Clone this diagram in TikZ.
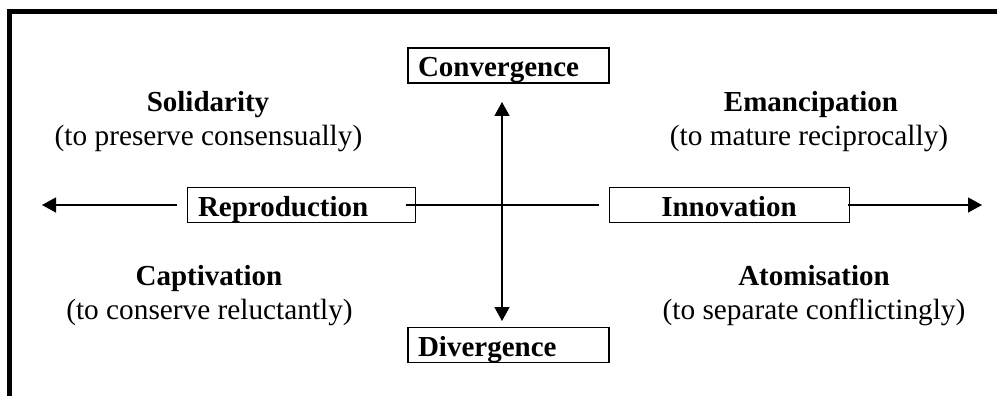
\documentclass[tikz,border=0pt]{standalone}
\usepackage{fontspec}
\setmainfont{Liberation Serif}
\usetikzlibrary{arrows.meta}
\tikzset{
  every node/.style={font=\fontsize{29}{34}\selectfont},
  title/.style={inner sep=0pt, anchor=base, font=\fontsize{29}{34}\selectfont\bfseries},
  sub/.style={inner sep=0pt, anchor=base, font=\fontsize{29.3}{34}\selectfont},
  thickbox/.style={draw, line width=1.8pt, minimum width=201pt, minimum height=35pt,
    text width=181pt, align=left, inner xsep=10pt, inner ysep=0pt,
    text height=24pt, text depth=2pt, font=\fontsize{29}{34}\selectfont\bfseries},
  thinbox/.style={draw, line width=1pt, minimum height=35pt, inner ysep=0pt,
    text height=24pt, text depth=2pt, font=\fontsize{29}{34}\selectfont\bfseries},
  axis/.style={line width=1.4pt},
  arr/.style={axis, -{Triangle[length=14pt,width=15pt]}},
  biarr/.style={axis, {Triangle[length=14pt,width=15pt]}-{Triangle[length=14pt,width=15pt]}},
  frameline/.style={line width=4.5pt, line join=miter}
}
\begin{document}
\begin{tikzpicture}[x=1pt,y=-1pt]
\useasboundingbox (0,0) rectangle (997,396);
\fill[white] (0,0) rectangle (997,396);
% frame (left and top edges)
\draw[frameline] (9.5,400) -- (9.5,11.75) -- (1000,11.75);

% boxes
\node[thickbox] (conv) at (508.5,65.5) {Convergence};
\node[thickbox] (div) at (508.5,345) {Divergence};
\node[thinbox, minimum width=228pt, text width=206pt, align=left, inner xsep=11pt] (rep) at (301,205) {Reproduction};
\node[thinbox, minimum width=240pt, text width=220pt, align=center, inner xsep=10pt] (inn) at (729,205) {Innovation};

% free ends
\coordinate (lefttip) at (42,205);
\coordinate (righttip) at (982,205);
\coordinate (toptip) at (502,102);
\coordinate (bottip) at (502,321);

% connectors
\draw[arr] ([xshift=-10pt]rep.west) -- (lefttip);
\draw[axis] ([xshift=-10pt]rep.east) -- ([xshift=-10pt]inn.west);
\draw[arr] ([xshift=-2pt]inn.east) -- (righttip);
\draw[biarr] (toptip) -- (bottip);

% quadrant labels
\node[title] (sol) at (208,111) {Solidarity};
\node[sub] (solsub) at (208.5,146) {(to preserve consensually)};
\node[title] (eman) at (811,111) {Emancipation};
\node[sub] (emansub) at (809,146) {(to mature reciprocally)};
\node[title] (capt) at (209,285) {Captivation};
\node[sub] (captsub) at (209.5,319) {(to conserve reluctantly)};
\node[title] (atom) at (814,285) {Atomisation};
\node[sub] (atomsub) at (814,319) {(to separate conflictingly)};
\end{tikzpicture}
\end{document}
